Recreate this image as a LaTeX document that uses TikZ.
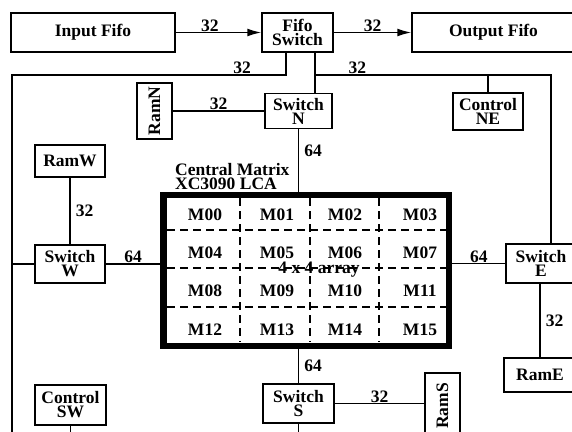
\documentclass[tikz,border=0pt]{standalone}
\usepackage{fontspec}
\setmainfont{Liberation Serif}
\usetikzlibrary{arrows.meta}

\begin{document}
\begin{tikzpicture}[x=1pt,y=-1pt,
  every node/.style={font=\bfseries\fontsize{17.5}{14}\selectfont},
  blk/.style={draw,line width=1.5pt,inner sep=0pt,align=center},
  wire/.style={line width=1.5pt},
  fifoarrow/.style={wire,-{Latex[length=14pt,width=8pt]}},
  wl/.style={inner sep=0.5pt},
  wr/.style={inner sep=5pt},
  mgrid/.style={line width=1.5pt,dash pattern=on 8pt off 5pt}]

\useasboundingbox (0,0) rectangle (572,431);
\fill[white] (0,0) rectangle (572,431);
\clip (0,0) rectangle (572,431);

% Fifo row
\node[blk,minimum width=164,minimum height=39] (infifo) at (93,32.5) {Input Fifo};
\node[blk,minimum width=71,minimum height=39] (fifosw) at (297.5,32.5) {Fifo\\Switch};
\node[blk,minimum width=163,minimum height=39] (outfifo) at (493.5,32.5) {Output Fifo};

% North side
\node[blk,rotate=90,minimum width=56,minimum height=35] (ramn) at (154.5,111) {RamN};
\node[blk,minimum width=67,minimum height=35] (swn) at (298.5,111) {Switch\\N};
\node[blk,minimum width=70,minimum height=37] (ctrlne) at (488,111.5) {Control\\NE};

% West side
\node[blk,minimum width=70,minimum height=32] (ramw) at (70,161) {RamW};
\node[blk,minimum width=70,minimum height=38] (sww) at (70,264) {Switch\\W};
\node[blk,minimum width=71,minimum height=40] (ctrlsw) at (70.5,405) {Control\\SW};

% East side
\node[blk,minimum width=70,minimum height=39] (swe) at (541,263.5) {Switch\\E};
\node[blk,minimum width=72,minimum height=34] (rame) at (540,375) {RamE};

% South side
\node[blk,minimum width=71,minimum height=39] (sws) at (298.5,403.5) {Switch\\S};
\node[blk,rotate=90,minimum width=66,minimum height=35] (rams) at (442.5,406) {RamS};

% Central matrix
\node[draw,line width=6.5pt,inner sep=0pt,minimum width=285.5,minimum height=151] (cmat) at (306.25,270.5) {};
\node[anchor=north west,inner sep=0pt,align=left] (cmtitle) at (175,163) {Central Matrix\\XC3090 LCA};
\foreach \x in {240,310,379}
  \draw[mgrid] (\x,198) -- (\x,342);
\foreach \y in {230,268,307}
  \draw[mgrid] (167,\y) -- (446,\y);
\foreach \r/\y in {0/215,1/252.5,2/291,3/330}
  \foreach \c/\x in {0/205,1/277,2/345,3/420} {
    \pgfmathtruncatemacro\n{4*\r+\c}
    \node (m\n) at (\x,\y) {M\ifnum\n<10 0\fi\n};
  }
\node[anchor=base] (arr) at (319,273) {4 x 4 array};

% Bus coordinates
\coordinate (jw) at (286,75);
\coordinate (je) at (315,75);
\coordinate (cw) at (12,75);
\coordinate (ce) at (551,75);
\coordinate (wend) at (12,440);
\coordinate (send) at (298.5,440);

% Connections
\draw[fifoarrow] (infifo) -- node[wl,above,pos=0.4]{32} (fifosw);
\draw[fifoarrow] (fifosw) -- node[wl,above]{32} (outfifo);
\draw[wire] (jw |- fifosw.south) -- (jw) -- node[wl,above,pos=0.16]{32} (cw) -- (wend);
\draw[wire] (je |- fifosw.south) -- (je |- swn.north);
\draw[wire] (je) -- node[wl,above,pos=0.18]{32} (ce) -- (ce |- swe.north);
\draw[wire] (ctrlne.north |- je) -- (ctrlne.north);
\draw[wire] (ramn.south |- swn.west) -- node[wl,above]{32} (swn.west);
\draw[wire] (swn.south) -- node[wr,right,pos=0.35]{64} (swn.south |- cmat.north);
\draw[wire] (ramw) -- node[wr,right]{32} (sww);
\draw[wire] (sww.east) -- node[wl,above]{64} (sww.east -| cmat.west);
\draw[wire] (sww.west) -- (sww.west -| wend);
\draw[wire] (cmat.east |- swe.west) -- node[wl,above]{64} (swe.west);
\draw[wire] (rame.north |- swe.south) -- node[wr,right]{32} (rame.north);
\draw[wire] (sws.north |- cmat.south) -- node[wr,right]{64} (sws.north);
\draw[wire] (sws.east) -- node[wl,above]{32} (sws.east -| rams.north);
\draw[wire] (sws.south) -- (send);
\draw[wire] (ctrlsw.south) -- (ctrlsw.south |- send);

\end{tikzpicture}
\end{document}
